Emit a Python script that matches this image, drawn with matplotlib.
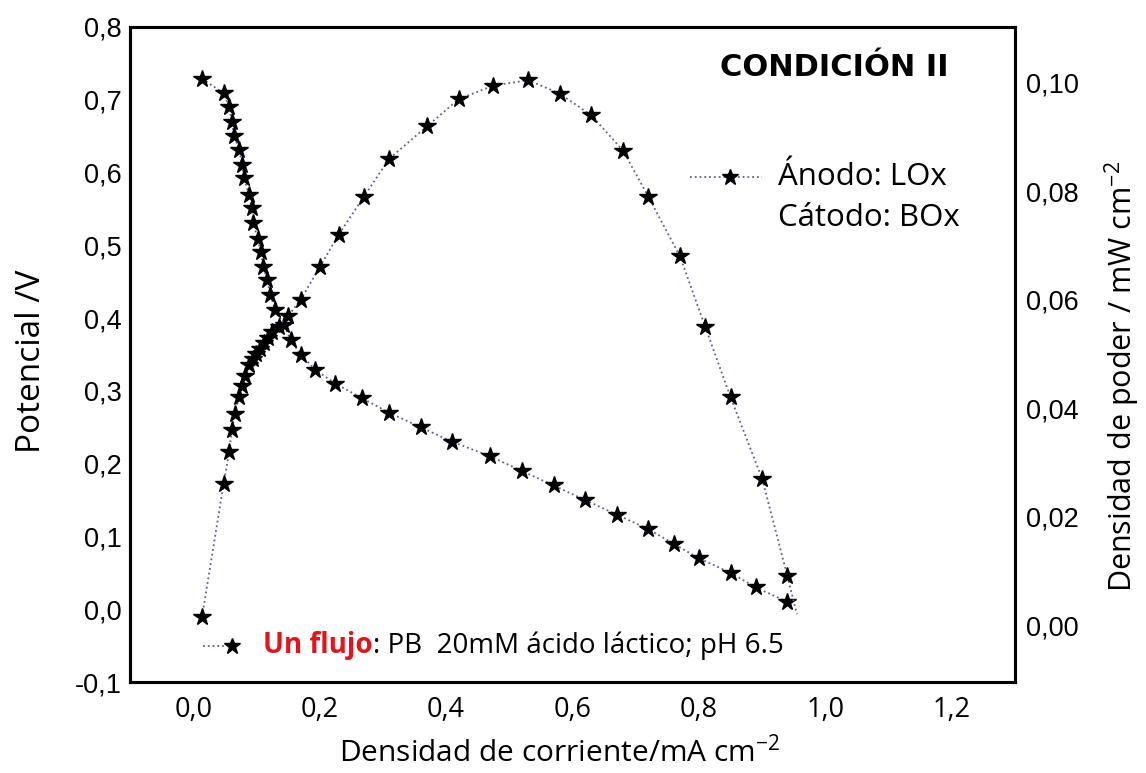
import numpy as np
import matplotlib.pyplot as plt

# Curva de polarización (densidad de corriente mA cm-2, potencial V)
pol_i = [0.014, 0.048, 0.057, 0.061, 0.065, 0.073, 0.077, 0.081, 0.088, 0.093,
         0.095, 0.102, 0.107, 0.111, 0.117, 0.122, 0.130, 0.144, 0.154, 0.171,
         0.193, 0.225, 0.267, 0.31, 0.36, 0.41, 0.47, 0.52, 0.57, 0.62, 0.67,
         0.72, 0.76, 0.80, 0.85, 0.89, 0.94]
pol_v = [0.729, 0.709, 0.690, 0.670, 0.650, 0.631, 0.610, 0.592, 0.569, 0.551,
         0.530, 0.509, 0.491, 0.470, 0.452, 0.432, 0.411, 0.390, 0.370, 0.349,
         0.329, 0.310, 0.290, 0.27, 0.25, 0.23, 0.21, 0.19, 0.17, 0.15, 0.13,
         0.11, 0.09, 0.07, 0.05, 0.03, 0.01]

# Curva de potencia (densidad de corriente mA cm-2, potencia mW cm-2)
pot_i = [0.014, 0.048, 0.057, 0.061, 0.066, 0.072, 0.077, 0.082, 0.088, 0.094,
         0.100, 0.106, 0.112, 0.118, 0.125, 0.135, 0.150, 0.170, 0.20, 0.23,
         0.27, 0.31, 0.37, 0.42, 0.475, 0.53, 0.58, 0.63, 0.68, 0.72, 0.77,
         0.81, 0.85, 0.90, 0.94, 0.955]
pot_p = [0.0015, 0.026, 0.032, 0.036, 0.039, 0.042, 0.044, 0.046, 0.048, 0.049,
         0.050, 0.051, 0.052, 0.053, 0.054, 0.055, 0.057, 0.060, 0.066, 0.072,
         0.079, 0.086, 0.092, 0.097, 0.0995, 0.1005, 0.098, 0.094, 0.0875,
         0.079, 0.068, 0.055, 0.042, 0.027, 0.009, 0.002]

x_ticks = [0.0, 0.2, 0.4, 0.6, 0.8, 1.0, 1.2]
v_ticks = [-0.1, 0.0, 0.1, 0.2, 0.3, 0.4, 0.5, 0.6, 0.7, 0.8]
p_ticks = [0.00, 0.02, 0.04, 0.06, 0.08, 0.10]

line_color = "#5f5f94"
font_txt = "Open Sans"
font_ticks = "Liberation Sans"

plt.rcParams["mathtext.fontset"] = "custom"
plt.rcParams["mathtext.rm"] = font_txt
plt.rcParams["mathtext.it"] = font_txt

W, H = 1146, 773
fig = plt.figure(figsize=(W / 100, H / 100), dpi=100)
ax = fig.add_axes([130 / W, 1 - 682 / H, 885 / W, 655 / H])
ax2 = ax.twinx()

ax.plot(pol_i, pol_v, linestyle=":", color=line_color, linewidth=1.3,
        marker="*", markersize=13, markerfacecolor="black",
        markeredgecolor="black")
ax2.plot(pot_i, pot_p, linestyle=":", color=line_color, linewidth=1.3,
         marker="*", markersize=13, markerfacecolor="black",
         markeredgecolor="black", markevery=list(range(len(pot_i) - 1)))

ax.set_xlim(-0.1, 1.3)
ax.set_ylim(-0.1, 0.8)
ax2.set_ylim(-0.0105, 0.1103)


def coma(v, d):
    s = f"{v:.{d}f}".replace(".", ",")
    return "0,0" if s == "-0,0" else s


ax.set_xticks(x_ticks)
ax.set_xticklabels([coma(t, 1) for t in x_ticks], fontfamily=font_txt,
                   fontsize=19.5)
ax.set_yticks(v_ticks)
ax.set_yticklabels([coma(t, 1) for t in v_ticks], fontfamily=font_ticks,
                   fontsize=19.5)
ax2.set_yticks(p_ticks)
ax2.set_yticklabels([coma(t, 2) for t in p_ticks], fontfamily=font_ticks,
                    fontsize=19.5)

ax.tick_params(axis="y", length=0, pad=6)
ax.tick_params(axis="x", length=0, pad=10)
ax2.tick_params(axis="y", length=0, pad=8)
for a in (ax, ax2):
    for s in a.spines.values():
        s.set_linewidth(2.2)

ax.set_xlabel("Densidad de corriente/mA cm$^{-2}$", fontsize=21.5,
              fontfamily=font_txt)
ax.xaxis.set_label_coords(0.486, -0.107)
ax.xaxis.label.set_va("center")

ax.set_ylabel("Potencial /V", fontsize=24, fontfamily=font_txt)
ax.yaxis.set_label_coords(-0.111, 0.489)
ax.yaxis.label.set_va("center")

ax2.set_ylabel("Densidad de poder / mW cm$^{-2}$", fontsize=22,
               fontfamily=font_txt)
ax2.yaxis.set_label_coords(1.121, 0.466)
ax2.yaxis.label.set_va("center")

ax.text((834 - 130) / 885, (682 - 67) / 655, "CONDICIÓN II", fontsize=22,
        fontweight="bold", fontfamily="DejaVu Sans", ha="center", va="center",
        transform=ax.transAxes)

# leyenda de electrodos
ly = (682 - 177) / 655
ax.plot([(690 - 130) / 885, (762 - 130) / 885], [ly, ly], linestyle=":",
        color=line_color, linewidth=1.3, transform=ax.transAxes)
ax.plot([(730 - 130) / 885], [ly], marker="*", markersize=12, color="black",
        transform=ax.transAxes)
ax.text((778 - 130) / 885, ly, "Ánodo: LOx", fontsize=22.5, fontfamily=font_txt,
        va="center", transform=ax.transAxes)
ax.text((778 - 130) / 885, (682 - 218) / 655, "Cátodo: BOx", fontsize=22.5,
        fontfamily=font_txt, va="center", transform=ax.transAxes)

# leyenda inferior
by = (682 - 646) / 655
ax.plot([(203 - 130) / 885, (224 - 130) / 885], [by, by], linestyle=":",
        color=line_color, linewidth=1.3, transform=ax.transAxes)
ax.plot([(232 - 130) / 885], [by], marker="*", markersize=12, color="black",
        transform=ax.transAxes)
t1 = ax.text((263 - 130) / 885, by, "Un flujo", fontsize=20, fontweight="bold",
             color="#e0161b", fontfamily=font_txt, va="center",
             transform=ax.transAxes)
ax.annotate(": PB  20mM ácido láctico; pH 6.5", xy=(1, 0.5), xycoords=t1,
            fontsize=20, fontfamily=font_txt, va="center", ha="left")

fig.savefig("out.png", dpi=100)
